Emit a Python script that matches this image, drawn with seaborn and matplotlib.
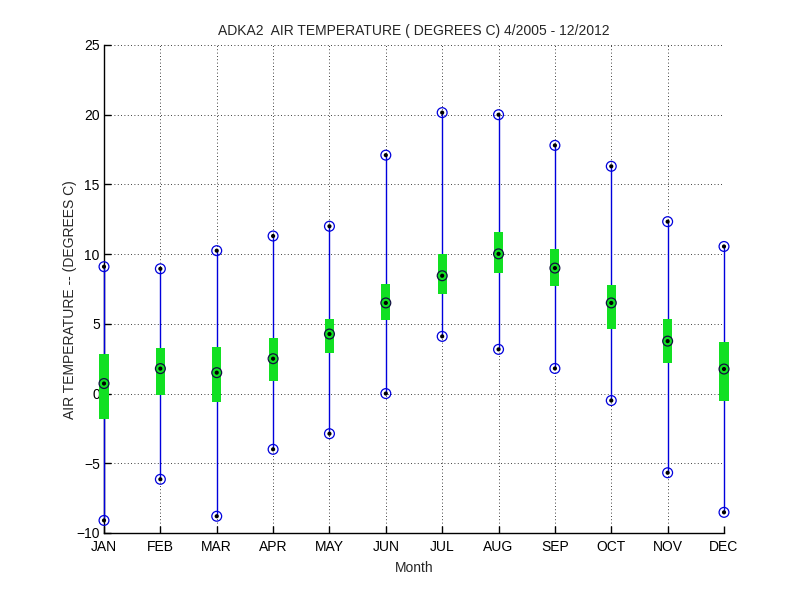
import numpy as np
import pandas as pd
import seaborn as sns
import matplotlib
matplotlib.use("Agg")
import matplotlib.pyplot as plt

# monthly air temperature stats
months = ['JAN', 'FEB', 'MAR', 'APR', 'MAY', 'JUN',
          'JUL', 'AUG', 'SEP', 'OCT', 'NOV', 'DEC']
t_max = [9.1, 8.95, 10.25, 11.3, 12.0, 17.1, 20.15, 20.0, 17.8, 16.3, 12.33, 10.55]
t_min = [-9.1, -6.15, -8.8, -4.0, -2.88, 0.0, 4.1, 3.17, 1.8, -0.5, -5.68, -8.52]
q_hi = [2.82, 3.25, 3.32, 4.02, 5.36, 7.88, 10.02, 11.6, 10.38, 7.8, 5.36, 3.71]
q_lo = [-1.84, -0.1, -0.6, 0.91, 2.88, 5.26, 7.12, 8.62, 7.7, 4.62, 2.17, -0.55]
median = [0.72, 1.79, 1.5, 2.5, 4.27, 6.5, 8.45, 10.02, 9.0, 6.5, 3.76, 1.76]

month_num = np.arange(1, len(months) + 1)

df = pd.DataFrame({
    'Month': month_num,
    'Max': t_max,
    'Min': t_min,
    'Q_hi': q_hi,
    'Q_lo': q_lo,
    'Median': median,
})
ext = df.melt(id_vars='Month', value_vars=['Max', 'Min'],
              var_name='Stat', value_name='Temp')
all_pts = df.melt(id_vars='Month', value_vars=['Max', 'Min', 'Median'],
                  var_name='Stat', value_name='Temp')

sns.set_style("white")
plt.rcParams['font.family'] = ['Liberation Sans', 'DejaVu Sans']

fig = plt.figure(figsize=(8, 6), dpi=100)
ax = fig.add_axes([0.13, 0.1117, 0.775, 0.8133])

# whiskers
ax.vlines(df['Month'], df['Min'], df['Max'], color='#0000dd', lw=1.0,
          zorder=3, clip_on=False)

# green boxes (quartile range)
ax.bar(df['Month'], df['Q_hi'] - df['Q_lo'], bottom=df['Q_lo'], width=0.16,
       color='#11e022', edgecolor='none', zorder=4, clip_on=False)

# open circles + black dots
sns.scatterplot(data=ext, x='Month', y='Temp', ax=ax, marker='o', s=50,
                facecolor='none', edgecolor='#0000dd', linewidth=0.9,
                legend=False, zorder=5, clip_on=False)
sns.scatterplot(x=df['Month'], y=df['Median'], ax=ax, marker='o', s=50,
                facecolor='none', edgecolor='#101040', linewidth=0.9,
                legend=False, zorder=5, clip_on=False)
sns.scatterplot(data=all_pts, x='Month', y='Temp', ax=ax, marker='o', s=9,
                color='black', edgecolor='none', legend=False, zorder=6,
                clip_on=False)

ax.set_xlim(1, 12)
ax.set_ylim(-10, 25)
ax.set_xticks(month_num)
ax.set_xticklabels(months)
ax.set_yticks(np.arange(-10, 26, 5))

ax.grid(True, color='black', linestyle=(0, (1, 3)), linewidth=0.6)
ax.set_axisbelow(True)
for side in ['top', 'right']:
    ax.spines[side].set_visible(False)
for side in ['left', 'bottom']:
    ax.spines[side].set_color('black')
    ax.spines[side].set_linewidth(1.0)
ax.tick_params(direction='in', length=5, width=1, colors='black',
               labelsize=10, left=True, bottom=True)
ax.tick_params(axis='x', pad=5)
ax.tick_params(axis='y', pad=3)

ax.set_title('ADKA2  AIR TEMPERATURE ( DEGREES C) 4/2005 - 12/2012',
             fontsize=10, pad=7)
ax.set_xlabel('Month', fontsize=10, labelpad=5)
ax.set_ylabel('AIR TEMPERATURE -- (DEGREES C)', fontsize=10)
ax.yaxis.set_label_coords(-0.0435, 0.4775)

fig.savefig('out.png', dpi=100, facecolor='white')
